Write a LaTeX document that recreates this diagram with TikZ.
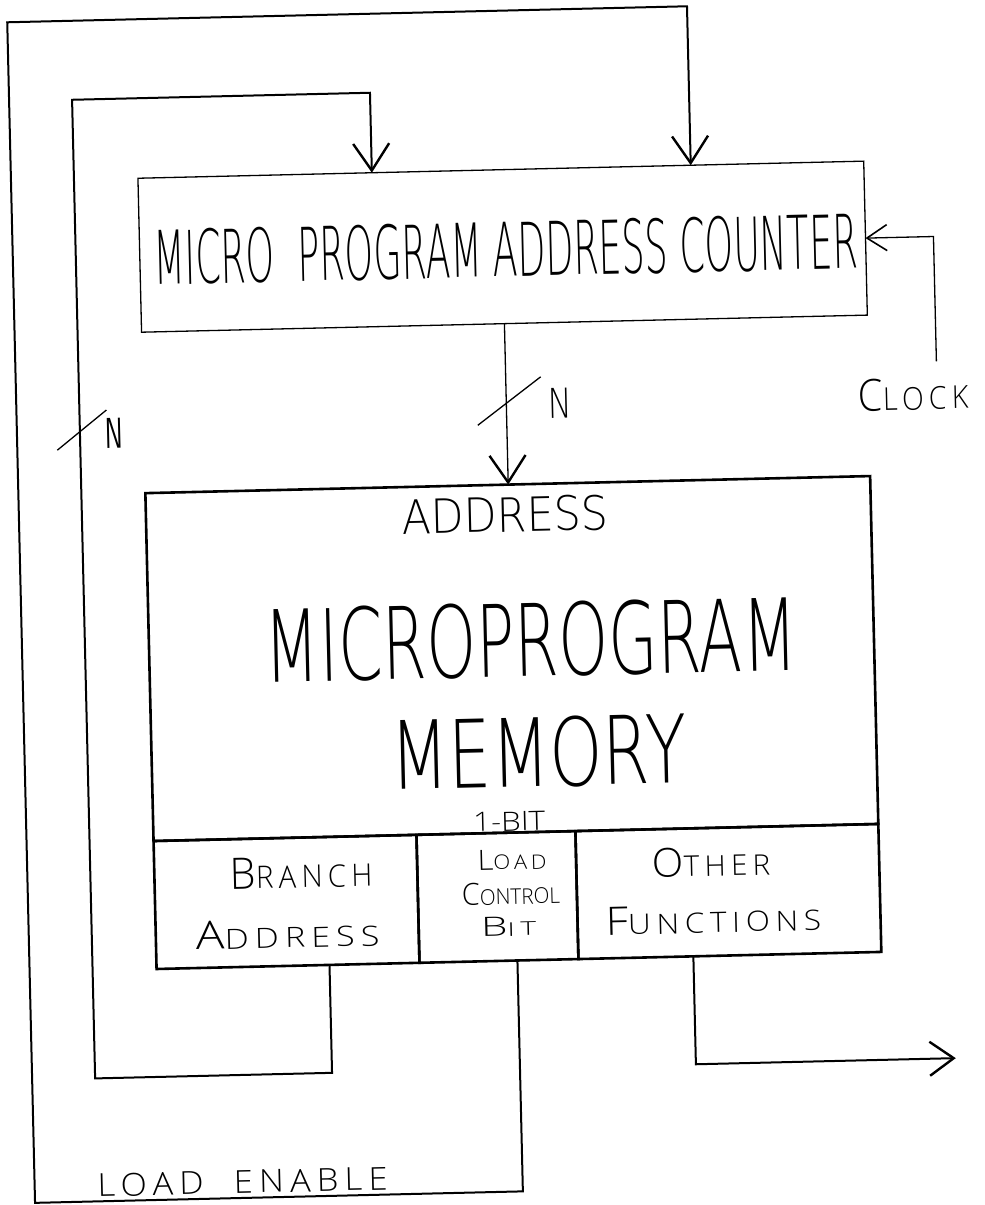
\documentclass[tikz,border=0pt]{standalone}
\usepackage{fontspec}
\usepackage{graphicx}
\usetikzlibrary{arrows.meta}
\IfFontExistsTF{DejaVuSans-ExtraLight.ttf}
  {\newfontfamily\handthin{DejaVuSans-ExtraLight.ttf}}
  {\IfFontExistsTF{OpenSans-Light.ttf}
     {\newfontfamily\handthin{OpenSans-Light.ttf}}
     {\newfontfamily\handthin{lmsans10-regular.otf}}}
\IfFontExistsTF{OpenSans-Light.ttf}
  {\newfontfamily\handlight{OpenSans-Light.ttf}}
  {\newfontfamily\handlight{lmsans10-regular.otf}}
\newcommand{\wide}{\addfontfeatures{LetterSpace=18}}
\newcommand{\fit}[3]{\resizebox{#1pt}{#2pt}{\handlight #3}}
\newcommand{\fitt}[3]{\resizebox{#1pt}{#2pt}{\handthin #3}}
\newcommand{\fitr}[3]{\resizebox{#1pt}{#2pt}{\sffamily #3}}
\newcommand{\scp}[2]{{\fontsize{14}{14}\selectfont #1}{\fontsize{10}{10}\selectfont #2}}
\begin{document}
\begin{tikzpicture}[x=1pt,y=-1pt,
  box/.style={draw, line width=1.3pt, inner sep=0pt, outer sep=0pt},
  mbox/.style={draw, line width=2.6pt, inner sep=0pt, outer sep=0pt},
  wire/.style={line width=2pt},
  thinwire/.style={line width=1.3pt},
  vhead/.style={-{Straight Barb[length=27pt,width=36pt,line width=2.4pt]}},
  lbl/.style={inner sep=0pt, outer sep=0pt}]
\useasboundingbox (0,0) rectangle (985,1205);
\begin{scope}[rotate around={1.35:(492,602)}, transform shape]
  % counter
  \node[box, minimum width=726pt, minimum height=154pt] (ctr) at (511,247) {};
  \node[lbl] (ctrt) at (514,250) {\fitt{704}{55}{MICRO\ \ PROGRAM ADDRESS COUNTER}};
  % memory
  \node[mbox, minimum width=725pt, minimum height=348pt] (memtop) at (510.5,659) {};
  \node[mbox, minimum width=263pt, minimum height=128pt] (br) at (279.5,897) {};
  \node[mbox, minimum width=159pt, minimum height=128pt] (lc) at (490.5,897) {};
  \node[mbox, minimum width=303pt, minimum height=128pt] (of) at (721.5,897) {};
  \node[lbl] (addr) at (507,515) {\fitt{206}{35}{ADDRESS}};
  \node[lbl] (mp) at (530,641) {\fitt{532}{74}{MICROPROGRAM}};
  \node[lbl] (memy) at (535,753) {\fitt{296}{70}{MEMORY}};
  \node[lbl] (onebit) at (504,822) {\fit{72}{19}{1-BIT}};
  \node[lbl] (brt1) at (295,868) {\fit{142}{31}{\wide\scp{B}{RANCH}}};
  \node[lbl] (brt2) at (280,929) {\fit{183}{28}{\wide\scp{A}{DDRESS}}};
  \node[lbl] (lct1) at (506,860) {\fit{69}{20}{\wide\scp{L}{OAD}}};
  \node[lbl] (lct2) at (504,894) {\fit{98}{22}{\scp{C}{ONTROL}}};
  \node[lbl] (lct3) at (501,927) {\fit{55}{19}{\wide\scp{B}{IT}}};
  \node[lbl] (oft1) at (705,867) {\fit{118}{29}{\wide\scp{O}{THER}}};
  \node[lbl] (oft2) at (706,924) {\fit{215}{28}{\wide\scp{F}{UNCTIONS}}};
  % clock
  \node[lbl] (clk) at (918,404) {\fit{110}{32}{\wide\scp{C}{LOCK}}};
  \coordinate (ck) at (942,372);
  \draw[thinwire, -{Straight Barb[length=20pt,width=26pt,line width=1.6pt]}] (ck) |- (ctr.east);
  % counter to memory
  \draw[thinwire, vhead] (ctr.south) -- (ctr.south |- memtop.north);
  \coordinate (s1a) at (482,425);
  \coordinate (s1b) at (546,378);
  \draw[thinwire] (s1a) -- (s1b);
  \node[lbl] (n1) at (565,405) {\fitt{24}{30}{N}};
  % branch loop
  \coordinate (ib) at (84,1069);
  \coordinate (it) at (84,90);
  \coordinate (ia) at (382,170);
  \draw[wire, vhead] ([xshift=41.5pt]br.south) |- (ib) -- (it) -| (ia);
  \coordinate (s2a) at (61,440);
  \coordinate (s2b) at (111,401);
  \draw[thinwire] (s2a) -- (s2b);
  \node[lbl] (n2) at (118,424) {\fitr{18}{30}{N}};
  % load enable loop
  \coordinate (ob) at (21,1192);
  \coordinate (ot) at (21,11);
  \coordinate (oa) at (701,170);
  \draw[wire, vhead] ([xshift=18.5pt]lc.south) |- (ob) -- (ot) -| (oa);
  \node[lbl] (le) at (229,1176) {\fit{290}{23}{\wide LOAD\ \ ENABLE}};
  % other functions output
  \coordinate (oo) at (945,1069);
  \draw[wire, -{Straight Barb[length=24pt,width=34pt,line width=2.4pt]}] ([xshift=-36.5pt]of.south) |- (oo);
\end{scope}
\end{tikzpicture}
\end{document}
